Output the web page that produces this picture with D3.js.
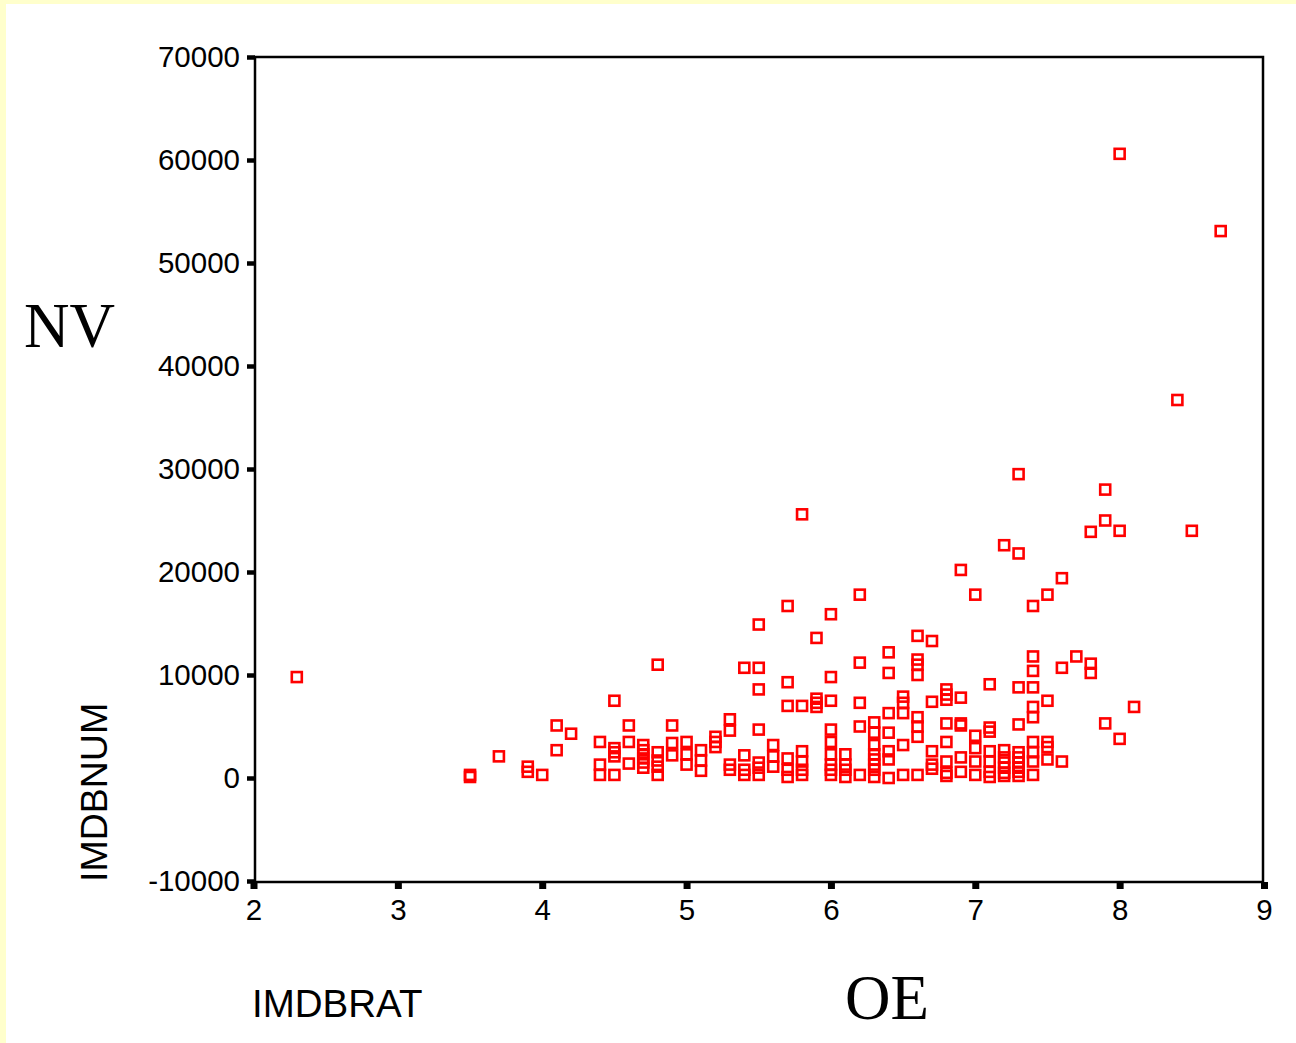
<!DOCTYPE html>
<html>
<head>
<meta charset="utf-8">
<script src="https://cdn.jsdelivr.net/npm/d3@7"></script>
<style>
  body { margin: 0; background: #ffffff; }
  svg { display: block; }
</style>
</head>
<body>
<svg id="scatter" width="1296" height="1043"></svg>
<script>
// ratings (x) and the vote counts seen at each rating (y)
var ratings = [2.3, 3.5, 3.7, 3.9, 4.0, 4.1, 4.2, 4.4, 4.5, 4.6, 4.7, 4.8, 4.9, 5.0,
  5.1, 5.2, 5.3, 5.4, 5.5, 5.6, 5.7, 5.8, 5.9, 6.0, 6.1, 6.2, 6.3, 6.4, 6.5, 6.6,
  6.7, 6.8, 6.9, 7.0, 7.1, 7.2, 7.3, 7.4, 7.5, 7.6, 7.7, 7.8, 7.9, 8.0, 8.1, 8.4,
  8.5, 8.7];

var votesByRating = [
  [9800],
  [300, 100],
  [2100],
  [1100, 600],
  [300],
  [5100, 2700],
  [4300],
  [3500, 1300, 300],
  [7500, 2900, 2500, 2100, 300],
  [5100, 3500, 1400],
  [3200, 2700, 2300, 1900, 1500, 1000],
  [11000, 2500, 1700, 1100, 300],
  [5100, 3400, 2200],
  [3500, 2300, 1300],
  [2700, 1700, 700],
  [4000, 3500, 3000],
  [5700, 4600, 1300, 800],
  [10700, 2200, 800, 300],
  [14900, 10700, 8600, 4700, 1500, 1000, 300],
  [3200, 2100, 1100],
  [16700, 9300, 7000, 1900, 800, 100],
  [25600, 7000, 2600, 1600, 800, 300],
  [13600, 7700, 7300, 6900],
  [15900, 9800, 7500, 4700, 3500, 2300, 1300, 800, 300],
  [2300, 1300, 800, 100],
  [17800, 11200, 7300, 5000, 300],
  [5400, 4400, 3200, 2300, 1800, 1300, 800, 100],
  [12200, 10200, 6300, 4400, 2600, 1800, 0],
  [7900, 7300, 6300, 3200, 300],
  [13800, 11500, 11000, 10000, 5900, 5000, 4000, 300],
  [13300, 7400, 2600, 1300, 900],
  [8600, 8100, 7600, 5300, 3500, 1600, 500, 200],
  [20200, 7800, 5300, 5100, 2000, 600],
  [17800, 4100, 2900, 1600, 300],
  [9100, 4900, 4500, 2600, 1600, 600, 100],
  [22600, 2700, 2000, 1500, 1000, 500, 200],
  [29500, 21800, 8800, 5200, 2500, 2000, 1500, 1000, 600, 200],
  [16700, 11800, 10400, 8800, 6900, 5900, 3500, 2500, 1600, 300],
  [17800, 7500, 3500, 3000, 1800],
  [19400, 10700, 1600],
  [11800],
  [23900, 11100, 10200],
  [28000, 25000, 5300],
  [60600, 24000, 3800],
  [6900],
  [36700],
  [24000],
  [53100]
];

var xTicks = [2, 3, 4, 5, 6, 7, 8, 9];
var yTicks = [-10000, 0, 10000, 20000, 30000, 40000, 50000, 60000, 70000];

var svg = d3.select("#scatter");

// pale yellow strips on the top and left edge
svg.append("rect").attr("x", 0).attr("y", 0).attr("width", 1296).attr("height", 4).attr("fill", "#ffffcc");
svg.append("rect").attr("x", 0).attr("y", 0).attr("width", 6).attr("height", 1043).attr("fill", "#ffffcc");

var x = d3.scaleLinear().domain([2, 9]).range([253.5, 1264]);
var y = d3.scaleLinear().domain([-10000, 70000]).range([881, 57]);

// plain hyphen for negatives, no separators
var fmt = function(d) { return String(d); };

// flatten into points
var points = [];
ratings.forEach(function(r, i) {
  votesByRating[i].forEach(function(v) { points.push({ r: r, v: v }); });
});

// frame
svg.append("rect")
  .attr("x", 255).attr("y", 57)
  .attr("width", 1263 - 255).attr("height", 882 - 57)
  .attr("fill", "none")
  .attr("stroke", "#000")
  .attr("stroke-width", 2.5);

// y axis ticks
var yAxis = svg.append("g")
  .attr("transform", "translate(255,0)")
  .call(d3.axisLeft(y).tickValues(yTicks).tickSize(8).tickPadding(7).tickFormat(fmt));
yAxis.select(".domain").remove();
yAxis.selectAll(".tick line").attr("stroke", "#000").attr("stroke-width", 4.5);
yAxis.selectAll(".tick text")
  .attr("font-family", "Liberation Sans, Arial, sans-serif")
  .attr("font-size", 29.5)
  .attr("fill", "#000");

// x axis ticks
var xAxis = svg.append("g")
  .attr("transform", "translate(0,882)")
  .call(d3.axisBottom(x).tickValues(xTicks).tickSize(7).tickPadding(10).tickFormat(fmt));
xAxis.select(".domain").remove();
xAxis.selectAll(".tick line").attr("stroke", "#000").attr("stroke-width", 7);
xAxis.selectAll(".tick text")
  .attr("font-family", "Liberation Sans, Arial, sans-serif")
  .attr("font-size", 29.5)
  .attr("fill", "#000");

// markers
var s = 10;
svg.append("g")
  .selectAll("rect")
  .data(points)
  .enter()
  .append("rect")
    .attr("x", function(d) { return x(d.r) - s / 2; })
    .attr("y", function(d) { return y(d.v) - s / 2; })
    .attr("width", s)
    .attr("height", s)
    .attr("fill", "none")
    .attr("stroke", "#ff0000")
    .attr("stroke-width", 2.6);

// labels
svg.append("text")
  .attr("x", 24).attr("y", 347)
  .attr("font-family", "Liberation Serif, Times New Roman, serif")
  .attr("font-size", 63)
  .text("NV");

svg.append("text")
  .attr("x", 845).attr("y", 1019)
  .attr("font-family", "Liberation Serif, Times New Roman, serif")
  .attr("font-size", 63)
  .text("OE");

svg.append("text")
  .attr("transform", "translate(107,882) rotate(-90)")
  .attr("font-family", "Liberation Sans, Arial, sans-serif")
  .attr("font-size", 37.5)
  .text("IMDBNUM");

svg.append("text")
  .attr("x", 252).attr("y", 1017)
  .attr("font-family", "Liberation Sans, Arial, sans-serif")
  .attr("font-size", 38.5)
  .text("IMDBRAT");
</script>
</body>
</html>
